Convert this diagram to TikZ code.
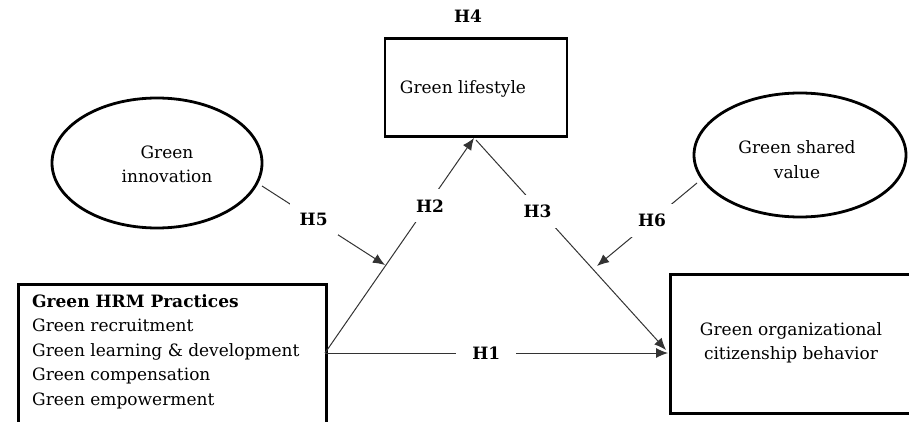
\documentclass[tikz,border=0pt]{standalone}
\usepackage{fontspec}
\setmainfont{DejaVu Serif}
\usetikzlibrary{shapes.geometric,arrows.meta}
\newcommand\myfs{\fontsize{17}{24.5}\selectfont}
\begin{document}
\begin{tikzpicture}[x=1pt,y=1pt,
  box/.style={draw, line width=2.8pt, rectangle, inner sep=0pt},
  oval/.style={draw, line width=2.8pt, ellipse, inner sep=0pt},
  txt/.style={font=\myfs, align=center, inner sep=0pt},
  conn/.style={line width=1pt, draw=black!80, -{Latex[length=12pt,width=10pt]}},
  hlab/.style={fill=white, font=\myfs\bfseries, inner sep=10pt, text=black},
]
\useasboundingbox (0,0) rectangle (909,421);
\clip (0,0) rectangle (909,421);
% boxes
\node[box, minimum width=308pt, minimum height=170pt, anchor=north west] (hrm) at (17,138) {};
\node[txt, align=left, anchor=north west] (hrmt) at (32,127)
  {\textbf{Green HRM Practices}\\Green recruitment\\Green learning \& development\\Green compensation\\Green empowerment};
\node[box, minimum width=182pt, minimum height=98pt] (life) at (476,333.5) {};
\node[txt] (lifet) at (463,332) {Green lifestyle};
\node[font=\myfs\bfseries, inner sep=0pt] (h4) at (468,405) {H4};
\node[box, minimum width=260pt, minimum height=139pt, anchor=north west] (ocb) at (669,148) {};
\node[txt] (ocbt) at (791,78) {Green organizational\\citizenship behavior};
% ellipses
\node[oval, minimum width=210pt, minimum height=130pt] (inno) at (157,258) {};
\node[txt] (innot) at (167,256.5) {Green\\innovation};
\node[oval, minimum width=212pt, minimum height=124pt] (shv) at (800,266) {};
\node[txt] (shvt) at (797,261.5) {Green shared\\value};
% junction coordinates
\coordinate (hrmout) at (325,68);
\coordinate (ocbin) at (668,68);
\coordinate (apexin) at (474,283);
\coordinate (apexout) at (476,281);
\coordinate (ocbin2) at (666,71);
\coordinate (innoout) at (262,235);
\coordinate (h5end) at (385,156);
\coordinate (shvout) at (697,238);
\coordinate (h6end) at (597,155);
% connectors
\draw[conn] (hrmout) -- node[hlab, inner xsep=16pt, pos=0.47] {H1} (ocbin);
\draw[conn] (hrmout) -- node[hlab, pos=0.685, xshift=3pt] {H2} (apexin);
\draw[conn] (apexout) -- node[hlab, pos=0.34, xshift=-3pt] {H3} (ocbin2);
\draw[conn] (innoout) -- node[hlab, pos=0.42] {H5} (h5end);
\draw[conn] (shvout) -- node[hlab, pos=0.45] {H6} (h6end);
\end{tikzpicture}
\end{document}
